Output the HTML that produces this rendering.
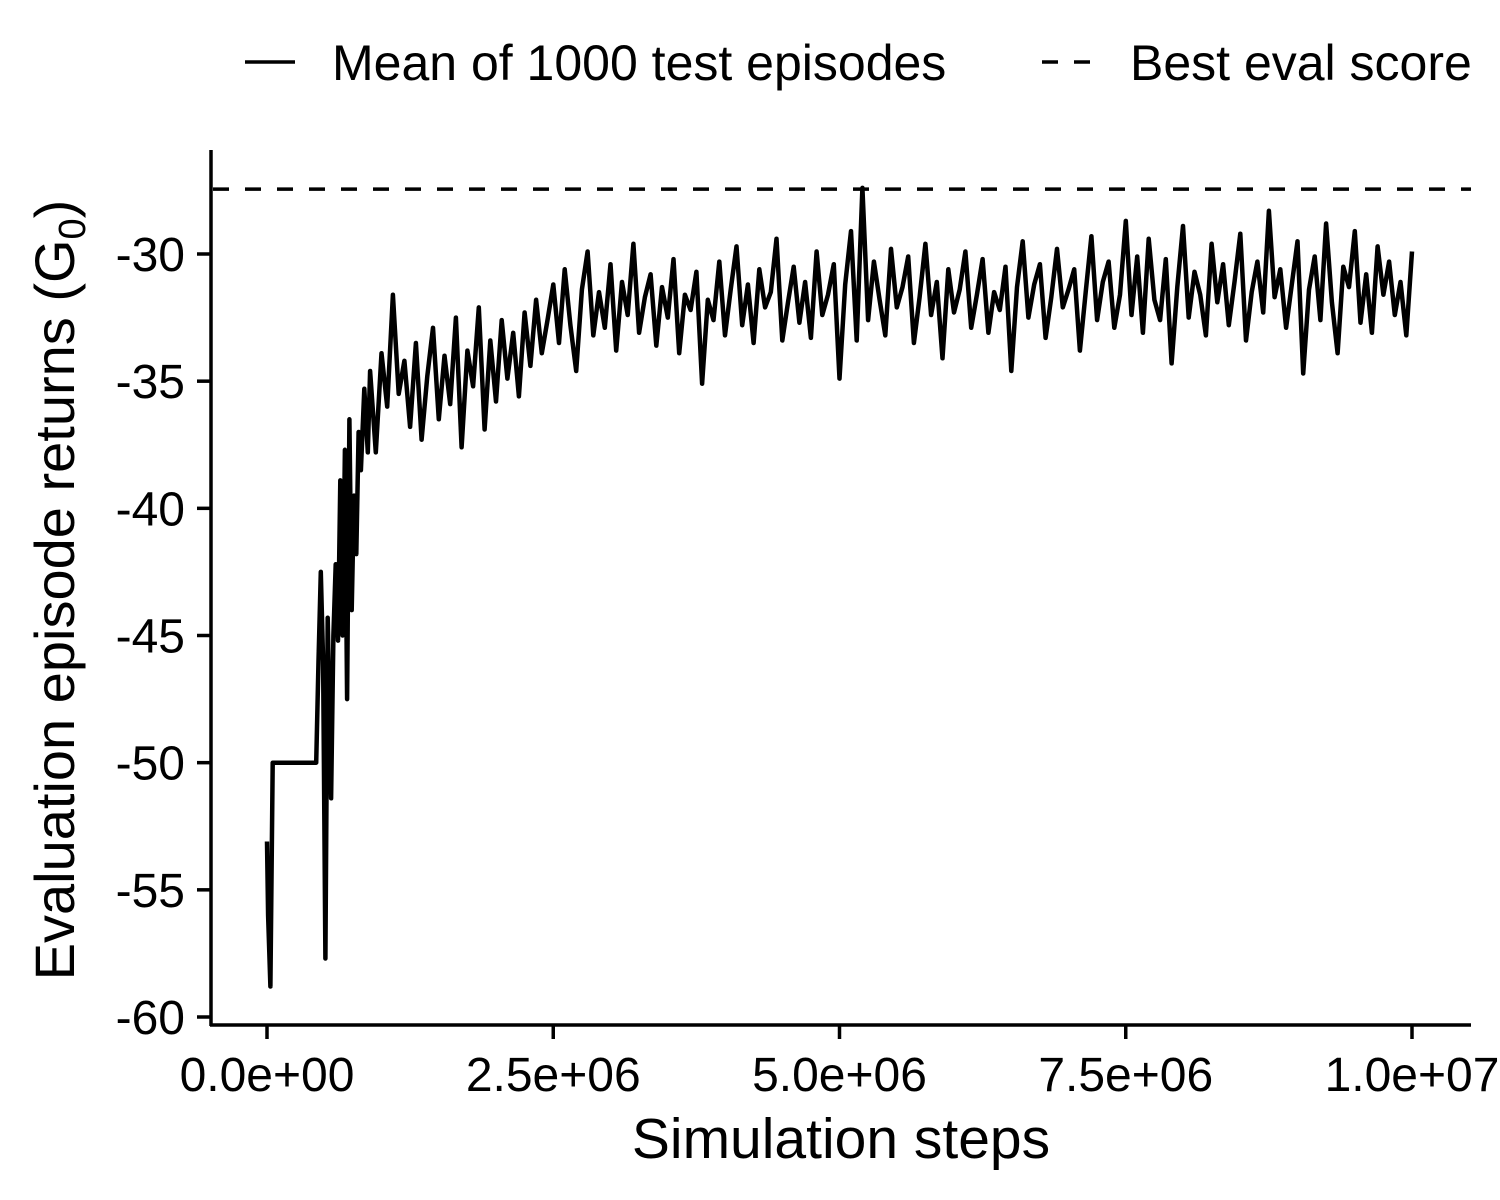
<!DOCTYPE html>
<html><head><meta charset="utf-8"><style>
body{margin:0;background:#fff;}
svg{display:block;font-family:"Liberation Sans",Arial,sans-serif;}
</style></head><body>
<svg id="chart" width="1500" height="1200" viewBox="0 0 1500 1200">
<rect width="1500" height="1200" fill="#fff"/>
<g>
<line x1="245" y1="62" x2="295" y2="62" stroke="#000" stroke-width="3.5"/>
<text x="332" y="80" font-size="50">Mean of 1000 test episodes</text>
<line x1="1042" y1="62" x2="1092" y2="62" stroke="#000" stroke-width="3.5" stroke-dasharray="16 16"/>
<text x="1130" y="80" font-size="50">Best eval score</text>
</g>
<g id="plot"></g>
<text x="841" y="1158" font-size="57" text-anchor="middle">Simulation steps</text>
<text transform="translate(74,590) rotate(-90)" font-size="56" text-anchor="middle">Evaluation episode returns (G<tspan font-size="38" dy="11">0</tspan><tspan dy="-11">)</tspan></text>
</svg>
<script>
const xTicks = [0, 2.5e6, 5e6, 7.5e6, 1e7];
const xTickLabels = ["0.0e+00", "2.5e+06", "5.0e+06", "7.5e+06", "1.0e+07"];
const yTicks = [-30, -35, -40, -45, -50, -55, -60];
const yTickLabels = ["-30", "-35", "-40", "-45", "-50", "-55", "-60"];
const bestScore = -27.45;
const earlySteps = [0,0.01e6,0.03e6,0.05e6,0.43e6,0.45e6,0.47e6,0.49e6,0.5e6,0.51e6,0.53e6,0.56e6,0.58e6,0.6e6,0.62e6,0.64e6,0.66e6,0.68e6,0.7e6,0.72e6,0.74e6,0.76e6,0.78e6,0.8e6,0.82e6,0.85e6,0.88e6,0.9e6,0.95e6,1.0e6,1.05e6,1.1e6,1.15e6];
const earlyReturns = [-53.1,-56,-58.8,-50,-50,-46,-42.5,-46,-52,-57.7,-44.3,-51.4,-45,-42.2,-45.2,-38.9,-45,-37.7,-47.5,-36.5,-44,-39.5,-41.8,-37,-38.5,-35.3,-37.8,-34.6,-37.8,-33.9,-36,-31.6,-35.5];
const lateStart = 1.2e6, lateStep = 0.05e6;
const lateReturns = [-34.2,-36.8,-33.5,-37.3,-34.8,-32.9,-36.5,-34,-35.9,-32.5,-37.6,-33.8,-35.2,-32.1,-36.9,-33.4,-35.8,-32.6,-34.9,-33.1,-35.6,-32.3,-34.4,-31.8,-33.9,-32.6,-31.2,
-33.5,-30.6,-32.8,-34.6,-31.4,-29.9,-33.2,-31.5,-32.9,-30.4,-33.8,-31.1,-32.4,-29.6,-33.1,-31.7,-30.8,-33.6,-31.3,-32.5,-30.2,-33.9,-31.6,-32.2,-30.7,-35.1,-31.8,-32.6,-30.3,-33.2,-31.4,-29.7,-32.8,-31.2,-33.5,-30.6,-32.1,-31.5,-29.4,-33.4,-31.9,-30.5,-32.7,-31.1,-33.3,-29.9,-32.4,-31.6,-30.4,-34.9,
-31.2,-29.1,-33.4,-27.4,-32.6,-30.3,-31.8,-33.2,-29.8,-32.1,-31.3,-30.1,-33.5,-31.7,-29.6,-32.4,-31.1,-34.1,-30.6,-32.3,-31.4,-29.9,-32.9,-31.6,-30.2,-33.1,-31.5,-32.2,-30.5,-34.6,-31.3,-29.5,-32.5,-31.2,-30.4,-33.3,-31.7,-29.8,-32.1,-31.4,-30.6,-33.8,-31.5,-29.3,-32.6,-31.1,-30.3,-32.9,-31.6,-28.7,
-32.4,-30.1,-33.1,-29.4,-31.8,-32.6,-30.2,-34.3,-31.3,-28.9,-32.5,-30.7,-31.6,-33.2,-29.6,-31.9,-30.4,-32.8,-31.1,-29.2,-33.4,-31.5,-30.3,-32.3,-28.3,-31.7,-30.6,-32.9,-31.2,-29.5,-34.7,-31.4,-30.1,-32.6,-28.8,-31.9,-33.9,-30.5,-31.3,-29.1,-32.7,-30.8,-33.1,-29.7,-31.6,-30.3,-32.4,-31.1,-33.2,-29.9];

const NS = "http://www.w3.org/2000/svg";
const plot = document.getElementById("plot");
const xS = v => 267 + (v / 1e7) * (1412 - 267);
const yS = v => 254 + (-30 - v) * (1017 - 254) / 30;
function mk(tag, attrs) { const e = document.createElementNS(NS, tag); for (const k in attrs) e.setAttribute(k, attrs[k]); plot.appendChild(e); return e; }

const yAxis = mk("line", {x1:211,y1:150,x2:211,y2:1026,stroke:"#000","stroke-width":3.5});


const xAxis = mk("line", {x1:210,y1:1025,x2:1471,y2:1025,stroke:"#000","stroke-width":3.5});



yTicks.forEach((t, i) => {
  const tk = mk("line", {x1:197,y1:yS(t),x2:211,y2:yS(t),stroke:"#000","stroke-width":3.5});
  
  
  const lb = mk("text", {x:185,y:yS(t)+17,"font-size":48,"text-anchor":"end"});
  lb.textContent = yTickLabels[i];
  
  
});
xTicks.forEach((t, i) => {
  const tk = mk("line", {x1:xS(t),y1:1025,x2:xS(t),y2:1039,stroke:"#000","stroke-width":3.5});
  
  
  const lb = mk("text", {x:xS(t),y:1091,"font-size":48,"text-anchor":"middle"});
  lb.textContent = xTickLabels[i];
  
  
});

const best = mk("line", {x1:213,y1:yS(bestScore),x2:1471,y2:yS(bestScore),stroke:"#000","stroke-width":3.5,"stroke-dasharray":"16 16"});



const pts = [];
earlySteps.forEach((s, i) => pts.push([xS(s), yS(earlyReturns[i])]));
lateReturns.forEach((r, i) => pts.push([xS(lateStart + i * lateStep), yS(r)]));
const line = mk("polyline", {points: pts.map(p => p[0].toFixed(1) + "," + p[1].toFixed(1)).join(" "), fill:"none", stroke:"#000", "stroke-width":4.5, "stroke-linejoin":"round"});


</script>
</body></html>
